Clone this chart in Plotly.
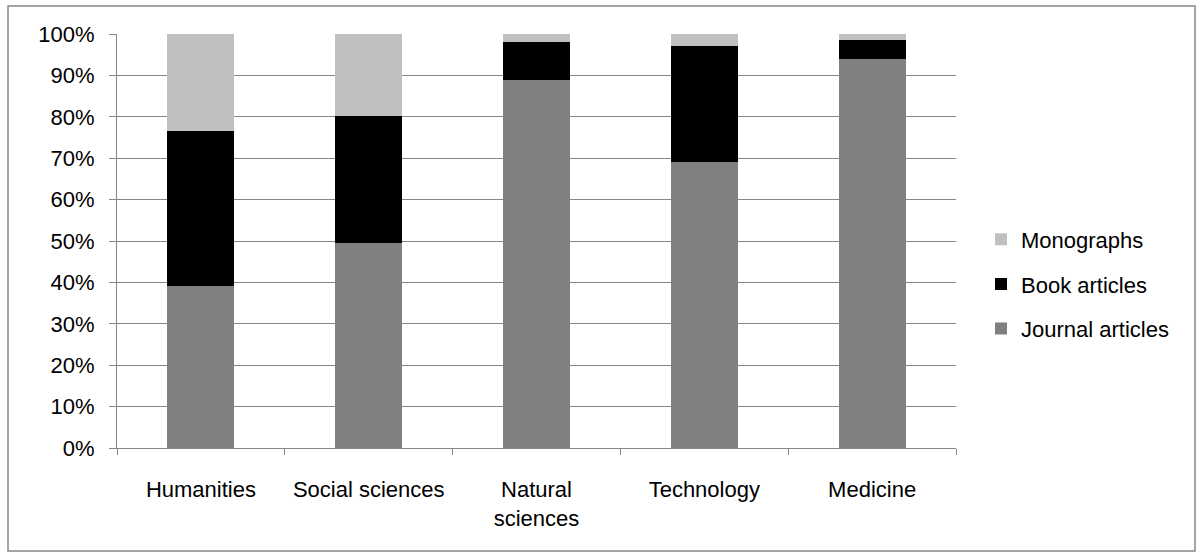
import plotly.graph_objects as go

categories = ["Humanities", "Social sciences", "Natural<br>sciences", "Technology", "Medicine"]
journal_articles = [0.392, 0.495, 0.888, 0.691, 0.939]
book_articles = [0.374, 0.308, 0.093, 0.281, 0.047]
monographs = [0.234, 0.197, 0.019, 0.028, 0.014]

series = [
    ("Journal articles", journal_articles, "#808080", 3),
    ("Book articles", book_articles, "#000000", 2),
    ("Monographs", monographs, "#C0C0C0", 1),
]

grid = "#868686"
font = dict(family="Liberation Sans, Arial, sans-serif", size=22, color="#000000")

fig = go.Figure()
for i, (name, vals, col, rank) in enumerate(series):
    fig.add_trace(go.Bar(
        x=categories, y=vals, name=name, marker=dict(color=col, line=dict(width=0)),
        width=0.4, legendgroup=f"g{i}", legendrank=rank,
    ))

fig.update_layout(
    barmode="stack",
    width=1202, height=559,
    margin=dict(l=117, r=246, t=34, b=111),
    paper_bgcolor="white", plot_bgcolor="white",
    font=font,
    showlegend=True,
    legend=dict(
        traceorder="grouped", tracegroupgap=13,
        x=(981 - 117) / 839, xanchor="left", y=0.396, yanchor="middle",
        font=font, bgcolor="rgba(0,0,0,0)",
    ),
    xaxis=dict(
        showline=True, linecolor=grid, linewidth=1,
        ticks="outside", tickson="boundaries", ticklen=6, tickcolor=grid,
        showgrid=False, tickfont=font, ticklabelstandoff=22,
    ),
    yaxis=dict(
        range=[0, 1], dtick=0.1, tickformat=".0%",
        showline=True, linecolor=grid, linewidth=1,
        ticks="outside", ticklen=7, tickcolor=grid,
        showgrid=True, gridcolor=grid, gridwidth=1,
        zeroline=False, tickfont=font, ticklabelstandoff=10,
    ),
    shapes=[dict(
        type="rect", xref="paper", yref="paper",
        x0=(8 - 117) / 839, x1=(1195 - 117) / 839,
        y0=(448 - 551) / 414, y1=(448 - 6) / 414,
        line=dict(color=grid, width=1.5), fillcolor="rgba(0,0,0,0)", layer="below",
    )],
)

fig.write_html("out.html", config={"displayModeBar": False},
               post_script="document.body.style.margin='0px';")
